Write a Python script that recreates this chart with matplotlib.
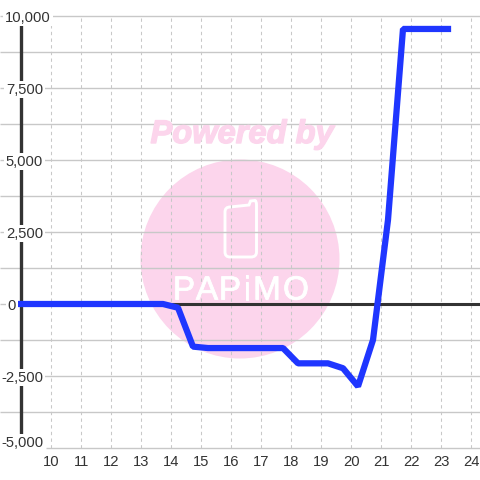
import matplotlib
matplotlib.use("Agg")
import matplotlib.pyplot as plt
import matplotlib.patheffects as pe
from matplotlib.patches import Circle, PathPatch
from matplotlib.path import Path
from matplotlib.transforms import Affine2D

hours = [8.75, 9.25, 9.75, 10.25, 10.75, 11.25, 11.75, 12.25, 12.75, 13.25, 13.75, 14.25, 14.75,
         15.25, 15.75, 16.25, 16.75, 17.25, 17.75, 18.25, 18.75, 19.25, 19.75, 20.25, 20.75,
         21.25, 21.75, 22.25, 22.75, 23.25]
values = [0, 0, 0, 0, 0, 0, 0, 0, 0, 0, 0, -130, -1480, -1530, -1530, -1530, -1530, -1530, -1530,
          -2060, -2060, -2060, -2230, -2860, -1250, 2920, 9550, 9550, 9550, 9550]
x_ticks = list(range(10, 25))
y_major = [10000, 7500, 5000, 2500, 0, -2500, -5000]
y_minor = [8750, 6250, 3750, 1250, -1250, -3750]

PX = 30.0
PY = 72 / 2500
ZERO = 304.0
x_at = lambda p: 10 + (p - 50.5) / PX
y_at = lambda p: (ZERO - p) / PY

plt.rcParams['font.family'] = ['Liberation Sans', 'DejaVu Sans']
fig = plt.figure(figsize=(4.8, 4.8), dpi=100)
ax = fig.add_axes([0, 0, 1, 1])
ax.set_xlim(x_at(0), x_at(480))
ax.set_ylim(y_at(480), y_at(0))
ax.axis('off')

GRID = '#c8c8c8'
AXIS = '#333333'
PINK = '#fcd5ec'

# watermark (pixel coordinates through a helper transform)
pix = Affine2D().scale(1, -1).translate(0, 480)
ax.add_patch(Circle((240, 259), 99.5, transform=pix, fc=PINK, ec='none', zorder=1))
phone = Path([(230, 207), (249, 205), (250.5, 201), (255, 200.5), (256.5, 201), (256.5, 205),
              (256.5, 252), (256.5, 257), (251, 257), (230, 257), (225, 257), (225, 252),
              (225, 212), (225, 207), (230, 207)],
             [Path.MOVETO, Path.LINETO, Path.LINETO, Path.LINETO, Path.CURVE3, Path.CURVE3,
              Path.LINETO, Path.CURVE3, Path.CURVE3, Path.LINETO, Path.CURVE3, Path.CURVE3,
              Path.LINETO, Path.CURVE3, Path.CURVE3])
ax.add_patch(PathPatch(phone, transform=pix, fc='none', ec='white', lw=2.1, zorder=1.1))
fig.text(242 / 480, 1 - 134.5 / 480, 'Powered by', color=PINK, fontsize=23.5, fontweight='bold',
         fontstyle='italic', ha='center', va='center', zorder=1,
         path_effects=[pe.withStroke(linewidth=1.0, foreground=PINK)])
for ch, cx in zip('PAPiMO', [184, 207, 230, 247, 267, 296]):
    fig.text(cx / 480, 1 - 291 / 480, ch, color='white', fontsize=24,
             ha='center', va='center', zorder=1.1,
             path_effects=[pe.withStroke(linewidth=0.6, foreground='white')])

# grid
for v in y_major + y_minor:
    start = 46 if v == -5000 else 0
    ax.plot([x_at(start), x_at(480)], [v, v], color=GRID, lw=1.0, zorder=2, solid_capstyle='butt')
for t in x_ticks:
    ax.plot([t, t], [-5000, 10000], color=GRID, lw=0.75, ls=(0, (3.2, 3.2)), zorder=2)

# axes lines
ax.plot([x_at(20.5), x_at(20.5)], [y_at(436), 10000], color=AXIS, lw=2.4, zorder=3,
        solid_capstyle='butt')
ax.plot([x_at(20), x_at(480)], [0, 0], color=AXIS, lw=2.2, zorder=3, solid_capstyle='butt')

# data
ax.plot(hours, values, color='#1f36ff', lw=4.5, zorder=4, solid_joinstyle='bevel',
        solid_capstyle='projecting')

# labels
box = dict(fc='white', ec='none', boxstyle='square,pad=0.12')
for v in y_major:
    label = f'{v:,}'
    right = {10000: 51, 0: 16}.get(v, 43)
    cy = {-5000: 441.5}.get(v, ZERO - v * PY)
    ax.text(x_at(right), y_at(cy), label, ha='right', va='center_baseline', fontsize=10.6,
            color='#333333', bbox=box, zorder=5)
for t in x_ticks:
    ax.text(t + 0.03, y_at(460.5), str(t), ha='center', va='center_baseline', fontsize=10.6,
            color='#333333', zorder=5)

fig.savefig('out.png', dpi=100)
